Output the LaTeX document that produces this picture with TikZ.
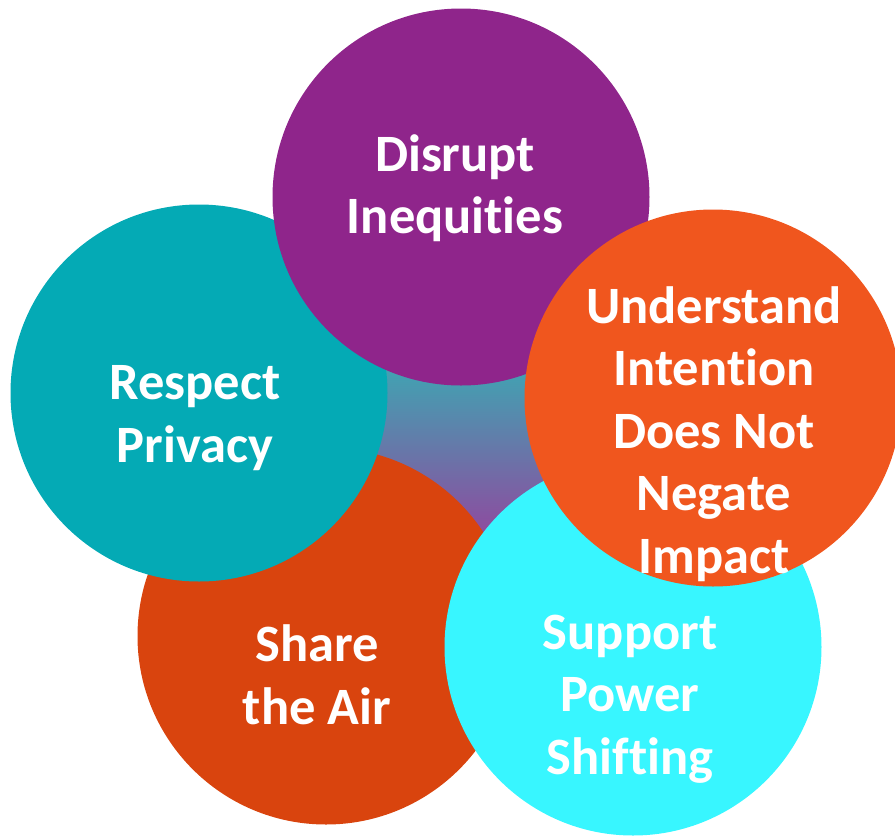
\documentclass[tikz,border=0pt]{standalone}
\usepackage{fontspec}
\setmainfont{Carlito}[RawFeature={-liga;-clig;-calt;-dlig}]
\usepackage{tikz}
\usetikzlibrary{positioning}
\definecolor{disruptpurple}{RGB}{143,37,139}
\definecolor{privacyteal}{RGB}{4,170,181}
\definecolor{impactorange}{RGB}{240,86,30}
\definecolor{shiftcyan}{RGB}{56,246,255}
\definecolor{airred}{RGB}{217,68,14}
\definecolor{hubteal}{RGB}{61,167,179}
\definecolor{hubpurple}{RGB}{147,69,158}

\begin{document}
\begin{tikzpicture}[
    x=1pt, y=-1pt,
    every node/.style={font=\bfseries\fontsize{52.5}{62.5}\selectfont, text=white},
    petal/.style={circle, minimum size=377pt, inner sep=0pt, fill=#1},
    petaltext/.style={align=center, inner sep=0pt}
]
\useasboundingbox (0,0) rectangle (895,836);

% shaded hub behind the petals
\shade[top color=hubteal, bottom color=hubpurple] (370,360) rectangle (550,545);

% petals, back to front
\node[petal=airred] (air) at (326,636) {};
\node[petal=shiftcyan] (shift) at (633,647) {};
\node[petal=privacyteal] (privacy) at (199,393) {};
\node[petal=disruptpurple] (disrupt) at (461,197) {};
\node[petal=impactorange] (impact) at (713,398) {};

% texts
\node[petaltext] (disrupttext) at ([xshift=-6pt, yshift=9pt]disrupt.center) {Disrupt\\Inequities};
\node[petaltext] (privacytext) at ([xshift=-4pt, yshift=-25pt]privacy.center) {Respect\\Privacy};
\node[petaltext] (impacttext) at ([xshift=1pt, yshift=-36pt]impact.center) {Understand\\Intention\\Does Not\\Negate\\Impact};
\node[petaltext] (airtext) at ([xshift=-9pt, yshift=-39pt]air.center) {Share\\the Air};
\node[petaltext] (shifttext) at ([xshift=-3pt, yshift=-52pt]shift.center) {Support\\Power\\Shifting};

\end{tikzpicture}
\end{document}
